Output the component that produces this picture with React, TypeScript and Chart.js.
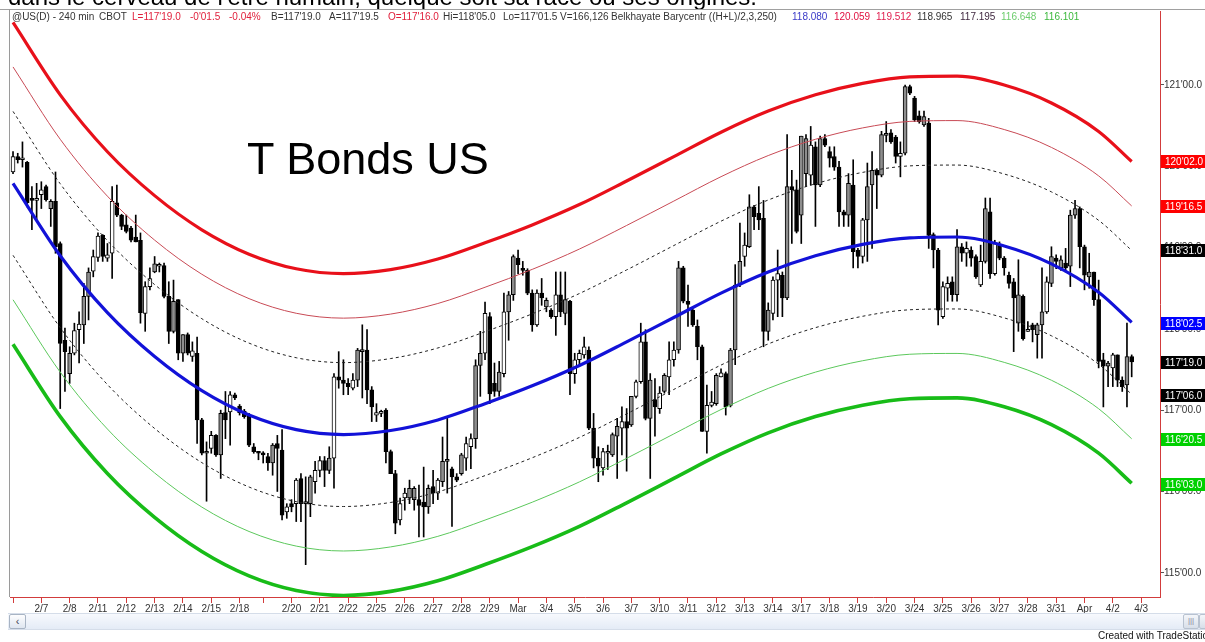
import React, { useEffect, useRef } from 'react';
import { Chart, registerables } from 'chart.js';

Chart.register(...registerables);

// ---------------- data ----------------
const opens = [
  119.93,120.12,120.08,120.05,119.60,119.58,119.65,119.75,119.48,119.57,
  119.05,117.86,117.45,117.70,117.99,118.05,118.40,118.71,118.88,119.15,
  118.87,118.93,119.55,119.40,119.28,119.24,119.13,119.09,118.19,118.52,
  118.70,118.77,118.78,118.40,117.97,118.36,117.70,117.93,117.66,117.70,
  116.88,116.47,116.53,116.69,116.45,116.97,116.98,117.19,117.05,116.99,
  116.94,116.55,116.49,116.47,116.43,116.35,116.59,116.51,115.75,115.85,
  115.85,116.16,115.85,115.85,116.12,116.26,116.38,116.26,116.41,117.41,
  117.37,117.33,117.27,117.37,117.72,117.74,117.25,116.94,116.96,117.00,
  116.49,116.22,115.65,115.92,115.92,115.90,115.90,115.87,115.81,116.06,
  115.98,116.12,116.37,116.28,116.18,116.22,116.41,116.55,116.65,117.55,
  117.70,118.15,117.33,117.23,117.45,118.21,118.42,118.87,118.74,118.72,
  118.44,118.05,118.44,118.27,118.23,118.15,118.42,118.19,118.34,117.45,
  117.62,117.68,117.74,116.78,116.41,116.29,116.47,116.45,116.68,116.78,
  116.86,116.82,117.17,117.35,117.84,116.90,117.13,117.02,117.23,117.41,
  117.62,117.74,118.75,118.34,118.23,118.03,117.78,116.74,117.06,117.08,
  117.41,117.45,117.06,117.74,118.54,118.89,119.01,119.50,119.42,119.36,
  117.97,118.19,118.60,118.66,118.38,119.75,119.71,119.40,119.91,119.89,
  120.24,119.77,120.34,120.18,120.12,119.99,119.44,119.40,119.77,118.97,
  118.89,119.34,119.77,119.95,119.89,120.38,120.41,120.36,120.12,120.16,
  120.98,120.84,120.62,120.51,120.53,119.16,118.97,118.15,118.50,118.58,
  118.42,119.01,118.93,118.97,118.89,118.54,118.83,119.44,118.68,119.03,
  118.87,118.66,118.58,118.07,118.40,117.97,118.05,117.93,118.05,118.21,
  118.56,118.87,118.75,118.81,118.77,119.40,119.48,119.01,118.64,118.70,
  118.36,117.62,117.54,117.52,117.68,117.37,117.31,117.66,
];
const highs = [
  120.18,120.16,120.30,120.06,119.75,119.79,119.81,119.77,119.59,119.93,
  119.07,118.01,117.78,118.07,118.21,118.56,118.75,118.97,119.18,119.16,
  119.05,119.75,119.77,119.41,119.40,119.26,119.40,119.18,118.58,118.75,
  118.89,118.81,118.81,118.58,118.60,118.36,117.93,117.95,117.84,117.90,
  116.90,116.61,116.74,116.70,117.00,117.23,117.23,117.21,117.07,117.01,
  116.96,116.59,116.49,116.49,116.47,116.59,116.69,116.76,115.85,115.90,
  116.16,116.22,116.18,116.20,116.37,116.43,116.43,116.55,117.45,117.72,
  117.62,117.39,117.45,117.76,118.05,117.99,117.29,117.08,117.00,117.02,
  116.51,116.26,115.92,116.04,116.14,116.06,116.08,116.30,116.08,116.26,
  116.16,116.67,116.90,116.30,116.22,116.47,116.67,116.71,117.62,117.97,
  118.33,118.20,117.58,117.60,118.44,118.46,118.91,118.97,118.83,118.74,
  118.48,118.48,118.62,118.38,118.25,118.70,118.70,118.70,118.35,117.70,
  117.74,117.90,117.78,116.96,116.55,116.53,116.57,116.72,116.90,117.04,
  117.02,117.17,117.37,118.07,117.99,117.45,117.39,117.29,117.45,117.84,
  117.84,118.83,118.77,118.54,118.25,118.11,117.80,117.31,117.23,117.45,
  117.51,117.47,117.76,118.79,119.30,119.18,119.65,119.52,119.75,119.58,
  118.32,118.64,118.97,118.70,120.39,119.95,119.83,120.37,120.39,120.49,
  120.30,120.37,120.39,120.24,120.24,120.06,119.46,119.91,120.08,118.99,
  119.36,120.04,120.18,119.97,120.43,120.55,120.45,120.38,120.30,121.00,
  121.00,120.86,120.68,120.68,120.59,119.18,118.99,118.58,118.64,118.64,
  119.22,119.05,119.07,119.01,118.91,119.03,119.61,119.61,119.09,119.07,
  118.89,118.70,118.62,118.85,118.42,118.09,118.07,118.07,118.75,118.64,
  119.01,118.91,118.90,118.99,119.46,119.58,119.50,119.03,118.93,118.70,
  118.60,117.70,117.60,117.70,117.68,117.41,118.07,117.68,
];
const lows = [
  119.91,120.04,119.99,119.50,119.22,119.34,119.48,119.57,119.26,118.93,
  117.02,117.23,117.33,117.68,117.58,117.82,118.11,118.64,118.83,118.83,
  118.83,118.62,119.38,119.22,119.18,119.07,119.07,118.07,117.97,118.48,
  118.69,118.70,118.38,117.82,117.95,117.62,117.60,117.68,117.60,116.59,
  116.45,115.88,116.47,116.43,116.16,116.65,116.57,117.13,116.94,116.90,
  116.55,116.47,116.39,116.35,116.26,116.20,116.00,115.65,115.67,115.75,
  115.63,115.63,115.10,115.69,115.98,116.18,116.06,116.22,116.04,117.27,
  117.19,117.19,117.25,117.29,117.15,117.08,116.86,116.86,116.92,116.35,
  116.22,115.48,115.59,115.77,115.85,115.77,115.44,115.44,115.73,115.85,
  115.90,116.06,115.98,115.57,116.12,116.20,116.26,116.28,116.53,117.17,
  117.62,117.08,117.17,117.17,117.41,117.86,118.35,118.68,118.66,118.42,
  117.97,118.03,118.29,118.21,118.13,117.92,118.15,118.05,117.19,117.33,
  117.54,117.64,116.76,116.29,116.12,116.20,116.27,116.43,116.16,116.45,
  116.25,116.80,117.15,117.33,116.88,116.16,116.68,116.96,117.21,117.19,
  117.54,117.70,118.32,118.03,118.03,117.62,116.74,116.47,117.04,117.06,
  117.41,116.94,117.04,117.56,118.52,118.77,119.00,119.22,119.22,117.78,
  117.86,118.11,118.15,118.15,118.36,119.05,119.18,119.05,119.75,119.77,
  119.26,119.75,120.24,119.99,119.95,119.26,119.26,119.26,118.75,118.75,
  118.81,118.83,118.99,119.48,119.87,120.30,120.28,120.04,119.87,120.14,
  120.88,120.55,120.53,120.49,118.99,118.75,118.05,118.13,118.34,118.34,
  118.34,118.83,118.77,118.77,118.62,118.52,118.81,118.62,118.66,118.85,
  118.66,118.50,117.72,117.97,117.86,117.97,117.84,117.64,117.64,118.19,
  118.52,118.74,118.72,118.70,118.52,119.36,118.75,118.48,118.50,118.29,
  117.52,117.04,117.29,117.29,117.29,117.23,117.04,117.41,
];
const closes = [
  120.12,120.08,120.10,119.55,119.58,119.60,119.71,119.59,119.57,119.01,
  117.82,117.72,117.70,117.98,118.06,118.40,118.70,118.89,119.14,118.89,
  118.91,119.57,119.40,119.26,119.20,119.09,119.07,118.20,118.52,118.62,
  118.80,118.78,118.40,117.97,118.34,117.70,117.93,117.70,117.73,116.88,
  116.47,116.49,116.69,116.45,116.96,116.88,117.19,117.15,116.97,116.92,
  116.57,116.49,116.47,116.45,116.35,116.57,116.53,115.71,115.81,115.81,
  116.14,115.85,115.86,116.18,116.26,116.38,116.26,116.41,117.41,117.37,
  117.33,117.29,117.37,117.74,117.74,117.25,117.04,116.97,116.97,116.49,
  116.22,115.61,115.85,115.98,116.04,116.04,115.83,115.81,116.04,115.98,
  116.14,116.37,116.39,116.18,116.14,116.45,116.59,116.65,117.55,117.70,
  118.19,117.20,117.23,117.47,118.21,118.42,118.89,118.79,118.72,118.44,
  118.05,118.44,118.38,118.35,118.15,118.42,118.21,118.36,117.45,117.62,
  117.70,117.78,116.78,116.41,116.31,116.49,116.49,116.70,116.80,116.86,
  116.78,117.17,117.35,117.84,116.90,117.37,117.04,117.21,117.43,117.62,
  117.74,118.75,118.34,118.30,118.05,117.78,116.74,117.06,117.10,117.43,
  117.46,117.04,117.74,118.54,118.83,119.03,119.50,119.38,119.34,117.97,
  118.23,118.60,118.68,118.38,119.75,119.71,119.20,120.37,120.34,120.26,
  119.77,120.34,120.26,120.10,119.99,119.44,119.40,119.79,118.95,118.89,
  119.34,119.75,119.95,119.89,120.39,120.40,120.30,120.12,120.16,120.98,
  120.90,120.57,120.55,120.61,119.15,118.97,118.23,118.52,118.56,118.42,
  119.01,118.93,118.99,118.87,118.64,118.83,119.48,118.68,119.05,118.87,
  118.75,118.56,118.38,118.42,117.88,117.99,117.99,118.05,118.21,118.58,
  118.89,118.83,118.85,118.75,119.40,119.48,119.01,118.66,118.70,118.36,
  117.60,117.54,117.58,117.68,117.37,117.29,117.66,117.594,
];
// candle body tone per bar: b = black (down), w = hollow (up), g = grey (up)
const tones = (
  'wbwbbw wbgbbb gwwggw wbwwbb bbbbww gwbbgb gbwbbg wbgbwb bbbbbb bgbbwb ' +
  'wbggww bgwbbb wggbbw wbbbww ggbbgb wggbbg wwggwb bgwggb bbbwbg bwbgbw ' +
  'wwbbbw wggwbg wwbgbw gwwgbb bbbwwg wbgggw gbbbgw wbgbbg gwbgbb bbbgbb ' +
  'wggbgg bbwgbb bgbbbw wbgbwb bwgbwb bbbgbw bggwgb gbggbb gbbbgw bbgb'
).replace(/ /g, '').split('');

// Belkhayate barycentre (centre line) read at anchor bars
const centerBars = [0, 10, 20, 30, 40, 50, 60, 70, 80, 90, 100, 110, 120, 130, 140, 150, 160, 170, 180, 190, 200, 210, 220, 230, 237];
const centerValues = [119.79, 118.90, 118.20, 117.66, 117.24, 116.94, 116.76, 116.70, 116.75, 116.88, 117.08, 117.30, 117.55, 117.84, 118.14, 118.44, 118.70, 118.90, 119.04, 119.12, 119.13, 119.02, 118.80, 118.45, 118.08];
// band offsets from the header values (120.059, 119.512, 118.965, 118.080, 117.195, 116.648, 116.101)
const bandOffsets = [1.979, 1.432, 0.885, 0, -0.885, -1.432, -1.979];

const dayTickBars = [0, 6, 12, 18, 24, 30, 36, 42, 48, 53, 59, 65, 71, 77, 83, 89, 95, 101, 107, 113, 119, 125, 131, 137, 143, 149, 155, 161, 167, 173, 179, 185, 191, 197, 203, 209, 215, 221, 227, 233, 239];
const dayTickLabels = ['', '2/7', '2/8', '2/11', '2/12', '2/13', '2/14', '2/15', '2/18', '', '2/20', '2/21', '2/22', '2/25', '2/26', '2/27', '2/28', '2/29', 'Mar', '3/4', '3/5', '3/6', '3/7', '3/10', '3/11', '3/12', '3/13', '3/14', '3/17', '3/18', '3/19', '3/20', '3/24', '3/25', '3/26', '3/27', '3/28', '3/31', 'Apr', '4/2', '4/3'];

const priceTicks = [115, 116, 117, 118, 119, 120, 121];
// last values shown as flags on the price axis
const flagValues = [120.0625, 119.515625, 118.96875, 118.078125, 117.59375, 117.1875, 116.640625, 116.09375];

const headerParts = [
  '@US(D) - 240 min', 'CBOT', "L=117'19.0", "-0'01.5", '-0.04%', "B=117'19.0", "A=117'19.5", "O=117'16.0",
  "Hi=118'05.0", "Lo=117'01.5", 'V=166,126', 'Belkhayate Barycentr ((H+L)/2,3,250)',
  '118.080', '120.059', '119.512', '118.965', '117.195', '116.648', '116.101',
];

// ---------------- styles ----------------
const FONT = '"Liberation Sans", Arial, sans-serif';
const headerX = [12, 99, 132, 190, 229, 271, 329, 388, 443, 503, 560, 611, 792, 834, 876, 917, 960, 1001, 1044];
const headerColors = ['#333', '#333', '#e0203c', '#e0203c', '#e0203c', '#333', '#333', '#e0203c', '#333', '#333', '#333', '#333',
  '#3a3ac8', '#e01040', '#e02050', '#333', '#402840', '#6ccc6c', '#3cb83c'];
const bandStyles = [
  { color: '#e8101a', width: 3.2, dash: [] as number[] },
  { color: '#c84a55', width: 1, dash: [] as number[] },
  { color: '#222', width: 1, dash: [3, 3] },
  { color: '#1212d8', width: 3.2, dash: [] as number[] },
  { color: '#222', width: 1, dash: [3, 3] },
  { color: '#5cc85c', width: 1, dash: [] as number[] },
  { color: '#18bc18', width: 3.6, dash: [] as number[] },
];
const flagColors = ['#ff0000', '#ff0000', '#000000', '#0000ff', '#000000', '#000000', '#00d000', '#00d000'];
const toneColor: Record<string, string> = { b: '#000000', w: '#ffffff', g: '#8e8e8e' };
const AXIS_RED = '#d23c3c';

function fmt32(v: number) {
  const i = Math.floor(v + 1e-9);
  const f = ((v - i) * 32).toFixed(1);
  return `${i}'${f.padStart(4, '0')}`;
}

const flagPlugin = {
  id: 'flags',
  afterDraw(chart: any) {
    const { ctx, chartArea } = chart;
    const y = chart.scales.y;
    ctx.save();
    ctx.font = `10px ${FONT}`;
    ctx.textBaseline = 'middle';
    flagValues.forEach((v, k) => {
      const py = Math.round(y.getPixelForValue(v));
      ctx.fillStyle = flagColors[k];
      ctx.fillRect(chartArea.right + 1, py - 6, 46, 13);
      ctx.fillStyle = '#ffffff';
      ctx.fillText(fmt32(v), chartArea.right + 5, py + 1);
    });
    ctx.restore();
  },
};

export default function App() {
  const ref = useRef<HTMLCanvasElement | null>(null);

  useEffect(() => {
    const bars = opens.map((_, i) => i);
    const bodyData = bars.map((i) => ({ x: i, y: [opens[i], closes[i]] }));
    const wickData = bars.map((i) => ({ x: i, y: [lows[i], highs[i]] }));
    const bodyColors = bars.map((i) => toneColor[tones[i]] || '#fff');

    const bandSets = bandOffsets.map((off, k) => ({
      type: 'line' as const,
      data: centerBars.map((b, j) => ({ x: b, y: centerValues[j] + off })),
      borderColor: bandStyles[k].color,
      borderWidth: bandStyles[k].width,
      borderDash: bandStyles[k].dash,
      pointRadius: 0,
      fill: false,
      cubicInterpolationMode: 'monotone' as const,
      order: 0,
    }));

    const chart = new Chart(ref.current as HTMLCanvasElement, {
      type: 'bar',
      data: {
        datasets: [
          ...bandSets,
          {
            type: 'bar',
            data: bodyData as any,
            backgroundColor: bodyColors,
            borderColor: '#000',
            borderWidth: 1,
            borderSkipped: false,
            barThickness: 4,
            minBarLength: 2,
            grouped: false,
            order: 1,
          },
          {
            type: 'bar',
            data: wickData as any,
            backgroundColor: '#000',
            borderWidth: 0,
            barThickness: 1,
            grouped: false,
            order: 2,
          },
        ] as any,
      },
      options: {
        animation: false,
        responsive: false,
        maintainAspectRatio: false,
        devicePixelRatio: 1,
        layout: { padding: { left: 10, top: 11, right: 0, bottom: 0 } },
        plugins: { legend: { display: false }, tooltip: { enabled: false } },
        scales: {
          x: {
            type: 'linear',
            min: -0.64,
            max: 243.0,
            offset: false,
            grid: { display: true, drawOnChartArea: false, drawTicks: true, tickLength: 6, color: AXIS_RED, offset: false },
            border: { color: AXIS_RED, width: 1 },
            ticks: {
              autoSkip: false,
              maxRotation: 0,
              minRotation: 0,
              padding: 0,
              color: '#333',
              font: { size: 10, family: FONT },
              callback: (v: any) => {
                const k = dayTickBars.indexOf(Number(v));
                return k >= 0 ? dayTickLabels[k] : '';
              },
            },
            afterBuildTicks: (s: any) => {
              s.ticks = dayTickBars.map((v) => ({ value: v }));
            },
            afterFit: (s: any) => {
              s.height = 19;
            },
          },
          y: {
            type: 'linear',
            position: 'right',
            min: 114.702,
            max: 121.91,
            grid: { drawOnChartArea: false, drawTicks: true, tickLength: 4, color: '#555' },
            border: { color: AXIS_RED, width: 1 },
            ticks: {
              padding: 0,
              color: '#333',
              font: { size: 10, family: FONT },
              callback: (v: any) => fmt32(Number(v)),
            },
            afterBuildTicks: (s: any) => {
              s.ticks = priceTicks.map((v) => ({ value: v }));
            },
            afterFit: (s: any) => {
              s.width = 45;
            },
          },
        },
      } as any,
      plugins: [flagPlugin],
    });
    return () => chart.destroy();
  }, []);

  return (
    <div style={{ position: 'fixed', left: 0, top: 0, width: 1205, height: 642, overflow: 'hidden', background: '#fff', fontFamily: FONT }}>
      <canvas ref={ref} width={1205} height={616} style={{ position: 'absolute', left: 0, top: 0, width: 1205, height: 616 }} />
      <div style={{ position: 'absolute', left: 0, top: 0, width: 1205, height: 9, overflow: 'hidden' }}>
        <div style={{ position: 'absolute', left: 8, top: -15, fontSize: 24, lineHeight: '24px', whiteSpace: 'nowrap', color: '#000' }}>
          dans le cerveau de l'être humain, quelque soit sa race ou ses origines.
        </div>
      </div>
      <div style={{ position: 'absolute', left: 0, top: 9, width: 1205, height: 1, background: '#a0a0a0' }} />
      <div style={{ position: 'absolute', left: 9, top: 9, width: 1, height: 588, background: '#9a9a9a' }} />
      {headerParts.map((t, k) => (
        <span key={k} style={{ position: 'absolute', left: headerX[k], top: 11, fontSize: 10, lineHeight: '11px', whiteSpace: 'nowrap', color: headerColors[k] }}>
          {t}
        </span>
      ))}
      <div style={{ position: 'absolute', left: 247, top: 136, fontSize: 45, lineHeight: '45px', whiteSpace: 'nowrap', color: '#000' }}>T Bonds US</div>
      <div style={{ position: 'absolute', left: 8, top: 613, width: 1197, height: 15, background: 'linear-gradient(#f7f9fd, #e4ebf6)', borderTop: '1px solid #d5dde9', borderBottom: '1px solid #d5dde9' }} />
      <div style={{ position: 'absolute', left: 9, top: 614, width: 15, height: 13, border: '1px solid #a8b4c4', borderRadius: 2, background: 'linear-gradient(#fdfdfe, #dfe6f0)', fontSize: 11, lineHeight: '12px', textAlign: 'center', color: '#445' }}>‹</div>
      <div style={{ position: 'absolute', left: 1183, top: 614, width: 14, height: 13, border: '1px solid #b8c2d0', borderRadius: 2, background: 'linear-gradient(#f4f6fa, #d8dfe9)', fontSize: 8, lineHeight: '12px', textAlign: 'center', color: '#889' }}>|||</div>
      <div style={{ position: 'absolute', left: 1199, top: 614, width: 10, height: 13, border: '1px solid #b8c2d0', borderRadius: 2, background: 'linear-gradient(#f4f6fa, #d8dfe9)' }} />
      <div style={{ position: 'absolute', left: 1098, top: 630, fontSize: 10, lineHeight: '12px', whiteSpace: 'nowrap', color: '#111' }}>Created with TradeStation</div>
    </div>
  );
}
